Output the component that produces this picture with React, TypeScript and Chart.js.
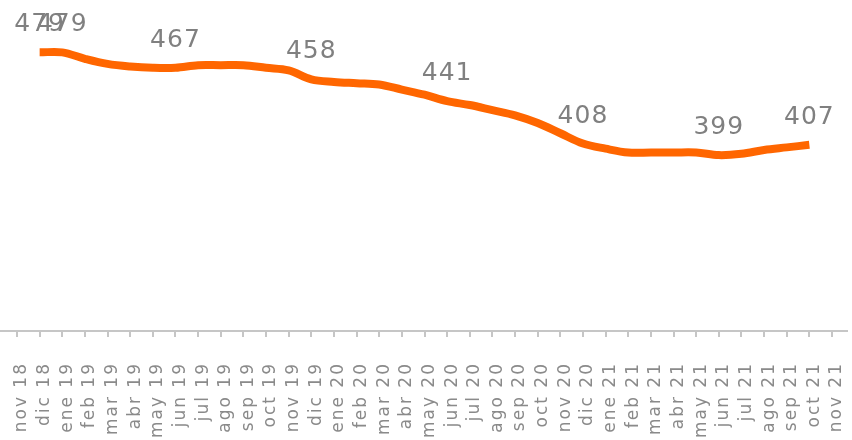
import React, { useEffect, useRef } from "react";
import { Chart, registerables } from "chart.js";

Chart.register(...registerables);

const months = [
  "nov 18", "dic 18",
  "ene 19", "feb 19", "mar 19", "abr 19", "may 19", "jun 19", "jul 19", "ago 19", "sep 19", "oct 19", "nov 19", "dic 19",
  "ene 20", "feb 20", "mar 20", "abr 20", "may 20", "jun 20", "jul 20", "ago 20", "sep 20", "oct 20", "nov 20", "dic 20",
  "ene 21", "feb 21", "mar 21", "abr 21", "may 21", "jun 21", "jul 21", "ago 21", "sep 21", "oct 21", "nov 21",
];

const values: (number | null)[] = [
  null, 479,
  479, 474, 470, 468, 467, 467, 469, 469, 469, 467, 465, 458,
  456, 455, 454, 450, 446, 441, 438, 434, 430, 424, 416, 408,
  404, 401, 401, 401, 401, 399, 400, 403, 405, 407, null,
];

const labeledIndices = [1, 2, 7, 13, 19, 25, 31, 35];

const yMin = 262;
const yMax = 512;

export default function App() {
  const ref = useRef<HTMLCanvasElement>(null);

  useEffect(() => {
    document.body.style.margin = "0";
    const canvas = ref.current;
    if (!canvas) return;

    const spacing = {
      id: "spacing",
      beforeDraw(chart: any) {
        chart.ctx.letterSpacing = "2px";
      },
    };

    const axisLine = {
      id: "axisLine",
      beforeDatasetsDraw(chart: any) {
        const { ctx, chartArea } = chart;
        ctx.save();
        ctx.strokeStyle = "#c6c6c6";
        ctx.lineWidth = 2;
        ctx.beginPath();
        ctx.moveTo(chartArea.left - 17, chartArea.bottom);
        ctx.lineTo(chartArea.right + 16, chartArea.bottom);
        ctx.stroke();
        ctx.restore();
      },
    };

    const dataLabels = {
      id: "dataLabels",
      afterDatasetsDraw(chart: any) {
        const { ctx } = chart;
        const meta = chart.getDatasetMeta(0);
        ctx.save();
        ctx.letterSpacing = "1px";
        ctx.font = "25px 'DejaVu Sans'";
        ctx.fillStyle = "#808080";
        ctx.textAlign = "center";
        ctx.textBaseline = "alphabetic";
        labeledIndices.forEach((i) => {
          const p = meta.data[i];
          if (!p || values[i] == null) return;
          ctx.fillText(String(values[i]), p.x, p.y - 21);
        });
        ctx.restore();
      },
    };

    const chart = new Chart(canvas, {
      type: "line",
      data: {
        labels: months,
        datasets: [
          {
            data: values,
            borderColor: "#ff6600",
            backgroundColor: "#ff6600",
            borderWidth: 8,
            borderCapStyle: "butt",
            borderJoinStyle: "round",
            pointRadius: 0,
            pointHoverRadius: 0,
            tension: 0.35,
            fill: false,
          },
        ],
      },
      options: {
        responsive: false,
        animation: false,
        events: [],
        layout: { padding: { left: 17, right: 20, top: 10, bottom: 0 } },
        plugins: {
          legend: { display: false },
          tooltip: { enabled: false },
        },
        scales: {
          x: {
            border: { display: false },
            grid: {
              drawOnChartArea: false,
              drawTicks: true,
              tickLength: 6,
              color: "#c6c6c6",
              lineWidth: 2,
            },
            ticks: {
              autoSkip: false,
              minRotation: 90,
              maxRotation: 90,
              padding: 25,
              labelOffset: 5,
              color: "#8a8a8a",
              font: { family: "DejaVu Sans", size: 17 },
            },
            afterFit(scale: any) {
              scale.height = 109;
              scale.paddingLeft = 0;
              scale.paddingRight = 0;
            },
          },
          y: {
            display: false,
            min: yMin,
            max: yMax,
          },
        },
      },
      plugins: [spacing, axisLine, dataLabels],
    });

    return () => chart.destroy();
  }, []);

  return (
    <div style={{ position: "fixed", left: 0, top: 0, width: 852, height: 440, background: "#fff" }}>
      <canvas ref={ref} width={852} height={440} />
    </div>
  );
}
